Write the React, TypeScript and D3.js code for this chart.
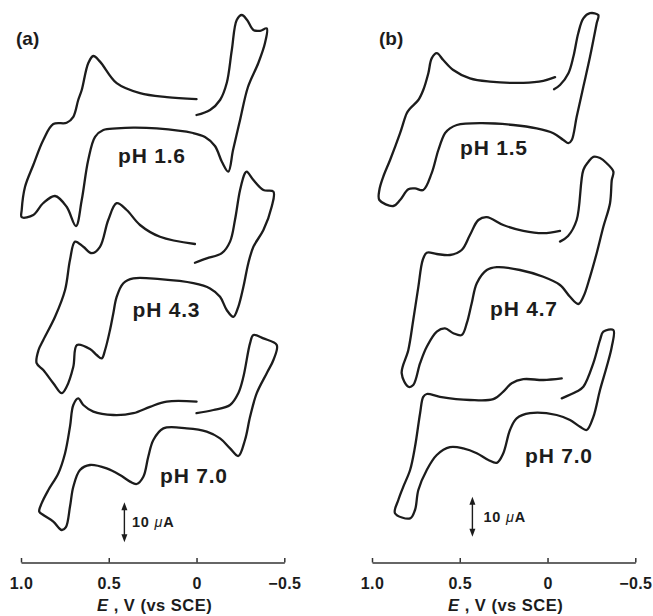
import React, { useEffect, useRef } from 'react';
import * as d3 from 'd3';

const W = 653;
const H = 616;

// Axis ticks (potential, V vs SCE) and labels
const tickValues = [1.0, 0.5, 0, -0.5];
const tickLabels = ['1.0', '0.5', '0', '\u22120.5'];
const panelLetters = ['(a)', '(b)'];
const phLabelsA = ['pH 1.6', 'pH 4.3', 'pH 7.0'];
const phLabelsB = ['pH 1.5', 'pH 4.7', 'pH 7.0'];
const scaleBarMicroA = 10;
// scale-bar anchor [E (V), centre current (µA)]
const scaleBarA: [number, number] = [0.411, 9.45];
const scaleBarB: [number, number] = [0.428, 10.8];

// Cyclic voltammograms: [E (V), current incl. stacking offset (µA)]
const cvA16: [number, number][] = [
  [0.0, 111.25], [-0.077, 112.5], [-0.134, 115], [-0.172, 119.25], [-0.201, 127.5], [-0.229, 135],
  [-0.258, 136.25], [-0.288, 135], [-0.324, 132.5], [-0.362, 132.3], [-0.4, 132.9],
  [-0.39, 129.25], [-0.352, 124.25], [-0.293, 118.25], [-0.248, 110], [-0.208, 102.5], [-0.181, 97.1],
  [-0.145, 99.5], [-0.105, 103.5], [-0.048, 105.75], [0.02, 106.75], [0.227, 107.9], [0.36, 108.1],
  [0.455, 107.9], [0.531, 107.5], [0.578, 105.8], [0.617, 100], [0.654, 90], [0.687, 83.5],
  [0.74, 88.3], [0.806, 91], [0.873, 89.25], [0.93, 86.25], [0.996, 85.7],
  [0.996, 87.5], [0.977, 93.3], [0.93, 98.75], [0.873, 105], [0.816, 109], [0.74, 109.3],
  [0.702, 110.8], [0.674, 115], [0.654, 117.5], [0.617, 124.2], [0.588, 126], [0.55, 124.6],
  [0.455, 119.2], [0.322, 116.7], [0.17, 115.7], [0.0, 115.2],
];

const cvA43: [number, number][] = [
  [0.009, 74.3], [-0.058, 75.4], [-0.144, 76.7], [-0.191, 79.6], [-0.219, 85], [-0.248, 92.5],
  [-0.276, 96.7], [-0.286, 97.1], [-0.324, 95], [-0.381, 92.5], [-0.438, 92.1],
  [-0.428, 88.3], [-0.381, 82.5], [-0.324, 78.3], [-0.295, 74.2], [-0.267, 68.3], [-0.238, 63.3],
  [-0.21, 60.8], [-0.172, 62.5], [-0.134, 65.8], [-0.077, 67.9], [0.018, 69.2], [0.208, 70.2],
  [0.36, 70.4], [0.417, 69.2], [0.455, 65.8], [0.474, 61.7], [0.493, 57.5], [0.521, 52.5],
  [0.54, 50.4], [0.569, 51.25], [0.607, 52.75], [0.681, 53.75], [0.702, 48.3], [0.74, 43.3],
  [0.768, 41.7], [0.816, 44.2], [0.873, 47.5], [0.911, 49.2], [0.9, 52.5], [0.873, 55],
  [0.806, 60.8], [0.749, 67.5], [0.721, 75], [0.692, 79.6], [0.645, 78.3], [0.597, 76.7],
  [0.55, 78.3], [0.503, 85], [0.455, 89.2], [0.398, 87.5], [0.322, 83.75], [0.208, 80.8], [0.009, 79],
];

const cvA70: [number, number][] = [
  [0.0, 36.7], [-0.096, 37.5], [-0.191, 38.75], [-0.238, 41.7], [-0.267, 45.8], [-0.305, 54.2],
  [-0.324, 56.25], [-0.381, 55.4], [-0.457, 53.75], [-0.438, 50], [-0.4, 46.7], [-0.343, 41.7],
  [-0.305, 35.8], [-0.276, 30], [-0.238, 26], [-0.191, 27.9], [-0.134, 30.4], [-0.058, 32.1],
  [0.056, 32.9], [0.189, 32.9], [0.246, 30], [0.275, 25.8], [0.303, 20.8], [0.341, 19],
  [0.379, 19.6], [0.436, 21.25], [0.512, 22.9], [0.607, 23.75], [0.664, 22.5], [0.702, 18.3],
  [0.721, 13.3], [0.744, 8.25], [0.768, 7.5], [0.816, 9.6], [0.873, 11.25], [0.896, 12.1],
  [0.882, 14.2], [0.844, 17.5], [0.787, 21.7], [0.749, 26.7], [0.721, 33.3], [0.702, 38.75],
  [0.674, 40.4], [0.645, 38.75], [0.588, 37.1], [0.474, 36.25], [0.36, 36.7], [0.265, 38.3],
  [0.17, 39.6], [0.0, 39.6],
];

const cvB15: [number, number][] = [
  [-0.037, 117.7], [-0.071, 118.75], [-0.119, 121.7], [-0.147, 125.8], [-0.175, 131.7],
  [-0.204, 135.4], [-0.242, 136.7], [-0.289, 136.25], [-0.28, 134.2], [-0.242, 125.8],
  [-0.204, 118.3], [-0.166, 110.8], [-0.138, 105], [-0.119, 104.2], [-0.09, 105], [-0.033, 106.7],
  [0.062, 107.9], [0.195, 108.75], [0.385, 109.2], [0.517, 108.75], [0.556, 107.9], [0.584, 106.7],
  [0.622, 102.5], [0.66, 96.7], [0.708, 92.5], [0.755, 92.9], [0.793, 92.7], [0.84, 90],
  [0.879, 88.5], [0.958, 90], [0.958, 92.5], [0.936, 95.8], [0.897, 100], [0.84, 106.7],
  [0.802, 111.7], [0.783, 112.9], [0.736, 115], [0.708, 117.5], [0.679, 121.7], [0.66, 125.4],
  [0.631, 126.7], [0.594, 125], [0.537, 122.5], [0.442, 120.4], [0.328, 119.6], [0.138, 119.3],
  [0.024, 119.8], [-0.043, 120.7],
];

const cvB47: [number, number][] = [
  [-0.071, 79.6], [-0.117, 81], [-0.166, 85], [-0.204, 97.5], [-0.232, 99.5], [-0.261, 100.8],
  [-0.299, 100.5], [-0.337, 99.2], [-0.375, 97.1], [-0.366, 95], [-0.356, 89.2], [-0.318, 83.3],
  [-0.28, 76.7], [-0.242, 70.8], [-0.204, 65.8], [-0.175, 64], [-0.128, 65.8], [-0.071, 68.75],
  [0.024, 70.8], [0.157, 72.5], [0.289, 73.2], [0.346, 72.5], [0.403, 69.2], [0.432, 64.2],
  [0.46, 59.2], [0.489, 56.25], [0.537, 56.7], [0.584, 57.9], [0.631, 57.1], [0.688, 53.3],
  [0.726, 49.2], [0.765, 43.75], [0.793, 43.3], [0.831, 46.7], [0.793, 52.5], [0.765, 60],
  [0.736, 68.3], [0.711, 75], [0.688, 76.8], [0.631, 76.5], [0.556, 76.25], [0.489, 77.5],
  [0.442, 81.25], [0.394, 85], [0.346, 85.7], [0.252, 83.75], [0.138, 82.3], [0.024, 81.7],
  [-0.071, 82.3],
];

const cvB70: [number, number][] = [
  [-0.081, 40.4], [-0.166, 42.1], [-0.204, 43.3], [-0.261, 49.2], [-0.299, 55], [-0.318, 57.1],
  [-0.375, 57.5], [-0.366, 53.3], [-0.337, 48.3], [-0.299, 42.5], [-0.261, 35.8], [-0.223, 32.5],
  [-0.185, 33.3], [-0.128, 35], [-0.052, 36.25], [0.1, 36.7], [0.176, 35.4], [0.214, 32.5],
  [0.252, 26.7], [0.289, 24.3], [0.337, 25], [0.403, 26.7], [0.48, 27.9], [0.556, 28.2],
  [0.631, 26.25], [0.688, 22.5], [0.736, 17.5], [0.755, 12.5], [0.783, 10.4], [0.869, 11.7],
  [0.85, 15], [0.822, 18.3], [0.783, 22.5], [0.755, 28.3], [0.726, 36.7], [0.708, 40.8],
  [0.688, 41.5], [0.613, 40.8], [0.442, 40], [0.309, 40.2], [0.252, 42.1], [0.204, 44.2],
  [0.138, 45.2], [0.024, 45], [-0.081, 45.4],
];

const FONT = '"Liberation Sans", Arial, Helvetica, sans-serif';
const INK = '#1c1c1c';

const yScale = d3.scaleLinear().domain([0, 140]).range([560, 0]);

const panels = [
  {
    letter: panelLetters[0],
    letterPos: [16, 45],
    x: d3.scaleLinear().domain([1.0, -0.5]).range([21, 284.3]),
    curves: [cvA16, cvA43, cvA70],
    labels: phLabelsA,
    labelPos: [[118, 163], [132.5, 316.5], [160, 482.5]],
    bar: scaleBarA,
    barLabelDx: 7.5,
    barLabelDy: 4.5,
  },
  {
    letter: panelLetters[1],
    letterPos: [379, 45],
    x: d3.scaleLinear().domain([1.0, -0.5]).range([372, 635.3]),
    curves: [cvB15, cvB47, cvB70],
    labels: phLabelsB,
    labelPos: [[460, 155], [490, 315.5], [525, 463]],
    bar: scaleBarB,
    barLabelDx: 11,
    barLabelDy: 5,
  },
];

function Arrow({ x, y1, y2 }: { x: number; y1: number; y2: number }) {
  const hw = 3;
  const hl = 8;
  return (
    <g fill={INK} stroke={INK}>
      <line x1={x} x2={x} y1={y1 + hl - 1} y2={y2 - hl + 1} strokeWidth={1.4} />
      <path d={`M${x},${y1} L${x - hw},${y1 + hl} L${x + hw},${y1 + hl} Z`} stroke="none" />
      <path d={`M${x},${y2} L${x - hw},${y2 - hl} L${x + hw},${y2 - hl} Z`} stroke="none" />
    </g>
  );
}

export default function App() {
  const axisRefs = [useRef<SVGGElement>(null), useRef<SVGGElement>(null)];

  useEffect(() => {
    panels.forEach((p, k) => {
      const el = axisRefs[k].current;
      if (!el) return;
      const axis = d3
        .axisBottom(p.x)
        .tickValues(tickValues)
        .tickFormat((_d, i) => tickLabels[i])
        .tickSizeInner(-4.5)
        .tickSizeOuter(0)
        .tickPadding(15);
      const g = d3.select(el);
      g.call(axis as any);
      g.select('.domain').attr('stroke', '#333').attr('stroke-width', 1.5);
      g.selectAll('.tick line').attr('stroke', '#333').attr('stroke-width', 1.5);
      g.selectAll('.tick text')
        .attr('font-size', 16)
        .attr('font-weight', 'bold')
        .attr('font-family', FONT)
        .attr('fill', INK)
        .attr('letter-spacing', 0.4);
    });
  }, []);

  const line = (x: d3.ScaleLinear<number, number>) =>
    d3
      .line<[number, number]>()
      .x((d) => x(d[0]))
      .y((d) => yScale(d[1]))
      .curve(d3.curveCatmullRom.alpha(0.5));

  return (
    <svg
      width={W}
      height={H}
      viewBox={`0 0 ${W} ${H}`}
      style={{ position: 'absolute', left: 0, top: 0, background: '#fff' }}
      fontFamily={FONT}
    >
      <rect width={W} height={H} fill="#fff" />
      {panels.map((p, k) => {
        const gen = line(p.x);
        const [be, bi] = p.bar;
        const bx = p.x(be);
        const by1 = yScale(bi + scaleBarMicroA / 2);
        const by2 = yScale(bi - scaleBarMicroA / 2);
        const mid = (by1 + by2) / 2;
        const [x0, x1] = p.x.range();
        return (
          <g key={k}>
            <text x={p.letterPos[0]} y={p.letterPos[1]} fontSize={19} fontWeight="bold" fill={INK}>
              {p.letter}
            </text>
            {p.curves.map((c, j) => (
              <path
                key={j}
                d={gen(c) || ''}
                fill="none"
                stroke={INK}
                strokeWidth={2.3}
                strokeLinejoin="round"
                strokeLinecap="round"
              />
            ))}
            {p.labels.map((t, j) => (
              <text
                key={j}
                x={p.labelPos[j][0]}
                y={p.labelPos[j][1]}
                fontSize={21}
                fontWeight="bold"
                letterSpacing={0.8}
                fill={INK}
              >
                {t}
              </text>
            ))}
            <Arrow x={bx} y1={by1} y2={by2} />
            <text x={bx + p.barLabelDx} y={mid + p.barLabelDy} fontSize={14.5} fill={INK} letterSpacing={0.8}>
              <tspan fontWeight="bold">{scaleBarMicroA} </tspan>
              <tspan fontStyle="italic">{'\u03bc'}</tspan>
              <tspan fontWeight="bold">A</tspan>
            </text>
            <g ref={axisRefs[k]} transform="translate(0,562.5)" />
            <text
              x={(x0 + x1) / 2 + 2}
              y={611}
              textAnchor="middle"
              fontSize={16.5}
              fontWeight="bold"
              fill={INK}
              letterSpacing={0.5}
            >
              <tspan fontStyle="italic">E</tspan>
              <tspan> , V (vs SCE)</tspan>
            </text>
          </g>
        );
      })}
    </svg>
  );
}
